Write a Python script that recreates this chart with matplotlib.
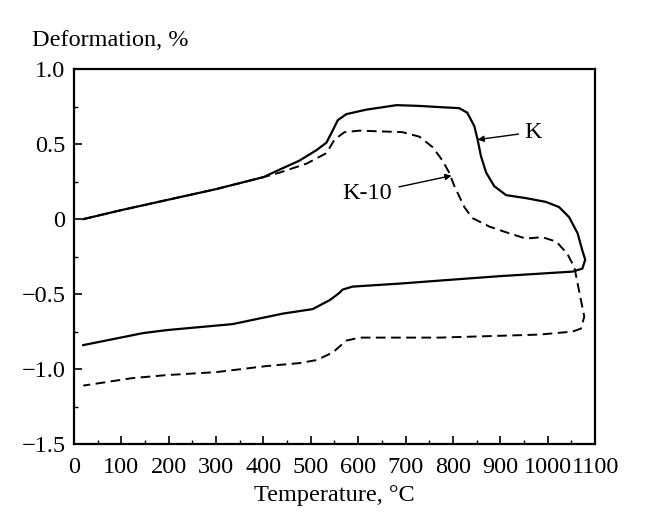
import matplotlib
matplotlib.use("Agg")
import matplotlib.pyplot as plt
from matplotlib.ticker import MultipleLocator, FuncFormatter

plt.rcParams['font.family'] = ['Liberation Serif', 'DejaVu Serif']
plt.rcParams['axes.unicode_minus'] = True

# K curve (solid): heating then cooling
k_heat_T = [20, 100, 200, 300, 400, 434, 476, 512, 533, 546, 557, 575, 617, 681,
            729, 771, 813, 830, 845, 852, 859, 870, 887, 912, 954, 996, 1024, 1045,
            1063, 1073, 1079]
k_heat_D = [0.0, 0.06, 0.13, 0.20, 0.28, 0.33, 0.39, 0.46, 0.51, 0.59, 0.66, 0.70,
            0.73, 0.76, 0.755, 0.747, 0.74, 0.71, 0.62, 0.53, 0.42, 0.31, 0.22, 0.16,
            0.14, 0.115, 0.08, 0.013, -0.095, -0.21, -0.27]
k_cool_T = [1079, 1073, 1052, 900, 771, 687, 588, 567, 561, 540, 504, 441, 335, 196,
            146, 20]
k_cool_D = [-0.27, -0.33, -0.35, -0.38, -0.41, -0.43, -0.45, -0.47, -0.49, -0.54,
            -0.60, -0.63, -0.70, -0.74, -0.76, -0.84]

# K-10 curve (dashed): heating then cooling
k10_heat_T = [20, 100, 200, 300, 400, 434, 491, 533, 550, 571, 603, 693, 729, 757,
              778, 792, 803, 824, 841, 877, 919, 954, 988, 1018, 1041, 1056, 1063,
              1070, 1077]
k10_heat_D = [0.0, 0.06, 0.13, 0.20, 0.28, 0.31, 0.37, 0.44, 0.53, 0.58, 0.59, 0.58,
              0.55, 0.48, 0.39, 0.31, 0.22, 0.08, 0.007, -0.05, -0.095, -0.13, -0.12,
              -0.15, -0.23, -0.32, -0.43, -0.54, -0.65]
k10_cool_T = [1077, 1070, 1052, 982, 771, 603, 575, 546, 512, 476, 406, 301, 196,
              124, 20]
k10_cool_D = [-0.65, -0.73, -0.75, -0.77, -0.79, -0.79, -0.81, -0.89, -0.94, -0.96,
              -0.98, -1.02, -1.04, -1.06, -1.11]

fig = plt.figure(figsize=(6.65, 5.2), dpi=100)
ax = fig.add_axes([0.111, 0.146, 0.784, 0.721])

ax.plot(k_heat_T + k_cool_T[1:], k_heat_D + k_cool_D[1:], color='black', lw=1.6,
        solid_joinstyle='round')
ax.plot(k10_heat_T + k10_cool_T[1:], k10_heat_D + k10_cool_D[1:], color='black',
        lw=1.4, dashes=(5, 2.8))

ax.set_xlim(0, 1100)
ax.set_ylim(-1.5, 1.0)
ax.xaxis.set_major_locator(MultipleLocator(100))
ax.xaxis.set_minor_locator(MultipleLocator(50))
ax.yaxis.set_major_locator(MultipleLocator(0.5))
ax.yaxis.set_minor_locator(MultipleLocator(0.25))

def yfmt(v, pos):
    if abs(v) < 1e-9:
        return '0'
    s = f'{abs(v):.1f}'
    return ('\u2212' + s) if v < 0 else s

ax.yaxis.set_major_formatter(FuncFormatter(yfmt))
ax.tick_params(which='both', direction='in', top=False, right=False, labelsize=17.5)
ax.tick_params(which='major', length=6, width=1.2)
ax.tick_params(axis='y', which='major', pad=6)
ax.tick_params(axis='x', which='major', pad=9)
ax.tick_params(which='minor', length=3, width=1.0)
for s in ax.spines.values():
    s.set_linewidth(1.6)

ax.set_xlabel('Temperature, \u00b0C', fontsize=17.5, labelpad=5)
fig.text(0.048, 0.922, 'Deformation, %', fontsize=17.5, ha='left', va='center')

ax.annotate('K', xy=(852, 0.53), xytext=(950, 0.58), fontsize=17.5, va='center',
            ha='left',
            arrowprops=dict(arrowstyle='-|>', color='black', lw=1.0,
                            mutation_scale=9, shrinkA=2, shrinkB=0))
ax.annotate('K-10', xy=(797, 0.29), xytext=(567, 0.17), fontsize=17.5, va='center',
            ha='left',
            arrowprops=dict(arrowstyle='-|>', color='black', lw=1.0,
                            mutation_scale=9, shrinkA=3, shrinkB=0))

fig.savefig('out.png', dpi=100, facecolor='white')
